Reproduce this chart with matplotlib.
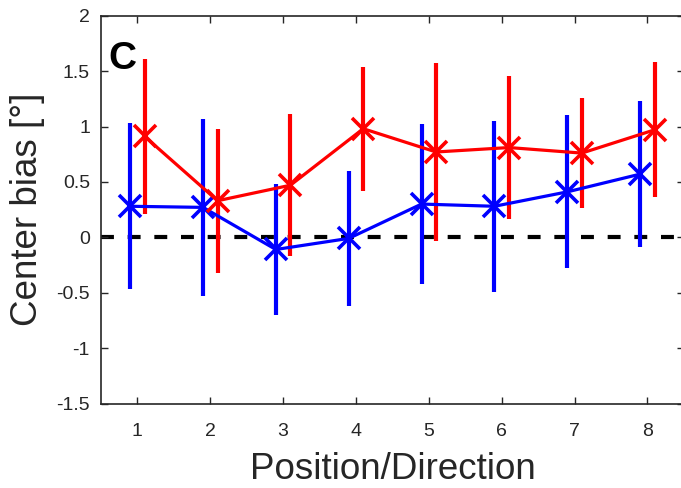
import numpy as np
import matplotlib
matplotlib.use("Agg")
from matplotlib import pyplot as plt

plt.rcParams["font.family"] = ["Liberation Sans", "DejaVu Sans"]

positions = np.arange(1, 9)

# group 1 (blue) mean bias and error half-widths
blue_bias = [0.28, 0.27, -0.11, -0.01, 0.30, 0.28, 0.41, 0.57]
blue_err = [0.75, 0.80, 0.59, 0.61, 0.72, 0.77, 0.69, 0.66]

# group 2 (red)
red_bias = [0.91, 0.33, 0.47, 0.98, 0.77, 0.81, 0.76, 0.97]
red_err = [0.70, 0.65, 0.64, 0.56, 0.80, 0.645, 0.50, 0.61]

offset = 0.1
axis_gray = "#262626"

fig = plt.figure(figsize=(6.81, 4.88), dpi=100)
ax = fig.add_axes([101 / 681, 84.5 / 488, 582.8 / 681, 387.8 / 488])

ax.axhline(0, color="black", linewidth=3, linestyle=(0, (3.1, 3.3)), zorder=1)

for xs, ys, es, col in [
    (positions - offset, blue_bias, blue_err, "blue"),
    (positions + offset, red_bias, red_err, "red"),
]:
    ax.errorbar(xs, ys, yerr=es, color=col, linewidth=2.3, elinewidth=3,
                capsize=0, marker="x", markersize=16, markeredgewidth=2.6,
                zorder=3)

ax.set_xlim(0.5, 8.5)
ax.set_ylim(-1.5, 2)
ax.set_xticks(positions)
ax.set_yticks(np.arange(-1.5, 2.01, 0.5))
ax.set_yticklabels(["-1.5", "-1", "-0.5", "0", "0.5", "1", "1.5", "2"])

ax.tick_params(direction="in", length=5, width=1, colors=axis_gray,
               labelsize=14, top=True, right=True)
ax.tick_params(axis="x", pad=14)
ax.tick_params(axis="y", pad=8)
for side in ax.spines.values():
    side.set_color(axis_gray)
    side.set_linewidth(1.2)

ax.set_xlabel("Position/Direction", fontsize=26.5, color=axis_gray, labelpad=8.5)
ax.set_ylabel("Center bias [°]", fontsize=26.5, color=axis_gray, labelpad=8)

ax.text(0.012, 0.935, "C", transform=ax.transAxes, fontsize=28,
        fontweight="bold", color="black", va="top", ha="left")

fig.savefig("out.png", dpi=100)
